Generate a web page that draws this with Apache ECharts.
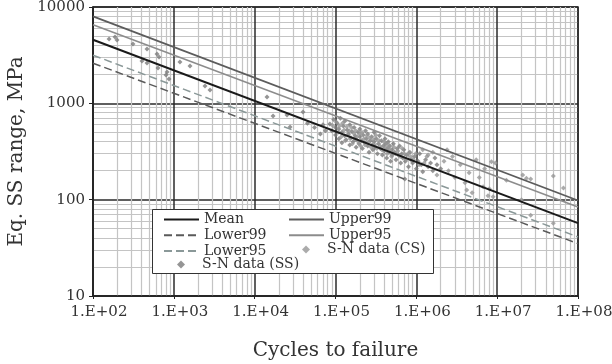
<!DOCTYPE html>
<html><head><meta charset="utf-8">
<script src="https://cdn.jsdelivr.net/npm/echarts@6/dist/echarts.min.js"></script>
<style>html,body{margin:0;padding:0;background:#fff}#c{width:612px;height:364px}</style>
</head><body><div id="c"></div>
<script>
// Fitted S-N lines: [cycles, stress range] at both ends
var meanLine    = [[100, 4570], [1e8, 57]];
var upper99Line = [[100, 8000], [1e8, 98]];
var upper95Line = [[100, 6540], [1e8, 84]];
var lower95Line = [[100, 3160], [1e8, 41]];
var lower99Line = [[100, 2610], [1e8, 35]];

// S-N data (SS)
var dataSS = [
 [158,4650],[187,4890],[198,4540],[312,4130],[466,3660],[619,3250],[656,3030],[404,2750],[466,2620],
 [637,2330],[824,2110],[800,1970],[872,1790],[1190,2690],[1585,2440],[2430,1510],[2800,1375],
 [14200,1165],[16900,738],[25100,757],[27400,568],[39600,813],
 [4.5e4,620],[5.5e4,560],[6.5e4,480],[7e4,600],[7.5e4,520],
 [8.5e4,610],[9e4,520],[9.5e4,680],[1.0e5,560],[1.0e5,470],[1.05e5,620],[1.1e5,430],[1.1e5,540],
 [1.15e5,700],[1.2e5,500],[1.2e5,390],[1.25e5,580],[1.3e5,460],[1.3e5,650],[1.35e5,420],[1.4e5,530],
 [1.45e5,480],[1.5e5,370],[1.5e5,600],[1.55e5,440],[1.6e5,510],[1.65e5,400],[1.7e5,560],[1.75e5,460],
 [1.8e5,350],[1.8e5,420],[1.9e5,500],[1.95e5,380],[2.0e5,450],[2.0e5,540],[2.1e5,410],[2.15e5,340],
 [2.2e5,470],[2.3e5,390],[2.35e5,520],[2.4e5,430],[2.5e5,360],[2.5e5,480],[2.6e5,310],[2.7e5,410],
 [2.8e5,450],[2.85e5,370],[2.9e5,330],[3.0e5,400],[3.0e5,500],[3.1e5,350],[3.2e5,430],[3.3e5,300],
 [3.4e5,380],[3.5e5,460],[3.6e5,340],[3.7e5,410],[3.8e5,290],[3.9e5,360],[4.0e5,320],[4.1e5,430],
 [4.2e5,380],[4.3e5,270],[4.4e5,340],[4.5e5,400],[4.6e5,310],[4.7e5,360],[4.8e5,250],[5.0e5,330],
 [5.0e5,290],[5.2e5,380],[5.4e5,310],[5.6e5,260],[5.8e5,340],[6.0e5,290],[6.2e5,360],[6.4e5,240],
 [6.6e5,300],[6.8e5,270],[7.0e5,330],[7.2e5,164],[7.3e5,250],[7.6e5,290],[8.0e5,220],[8.3e5,310],
 [8.6e5,260],[9.0e5,240],[9.5e5,280],[1.0e6,210],[1.05e6,250],[1.1e6,300],[1.15e6,230],[1.2e6,195],
 [1.3e6,260],[1.4e6,220],[1.5e6,240],[1.6e6,200],[1.7e6,270],[1.8e6,230],[2.0e6,210]
];
// S-N data (CS)
var dataCS = [
 [9.2e4,590],[1.02e5,640],[1.08e5,500],[1.12e5,580],[1.18e5,450],[1.22e5,620],[1.28e5,530],[1.32e5,410],
 [1.38e5,570],[1.42e5,470],[1.48e5,520],[1.52e5,430],[1.58e5,560],[1.62e5,380],[1.68e5,490],[1.72e5,430],
 [1.78e5,520],[1.85e5,450],[1.92e5,400],[1.98e5,480],[2.05e5,360],[2.12e5,500],[2.25e5,430],[2.32e5,370],
 [2.45e5,460],[2.55e5,400],[2.65e5,440],[2.75e5,350],[2.95e5,420],[3.05e5,370],[3.15e5,470],[3.25e5,340],
 [3.45e5,410],[3.55e5,360],[3.75e5,330],[3.95e5,400],[4.15e5,350],[4.35e5,300],[4.55e5,370],[4.75e5,330],
 [4.95e5,280],[5.3e5,350],[5.5e5,300],[5.9e5,320],[6.3e5,280],[6.7e5,340],[7.1e5,300],[7.5e5,260],
 [7.9e5,300],[8.5e5,280],[9.2e5,260],[9.8e5,300],[1.08e6,230],[1.25e6,240],[1.35e6,280],
 [1.2e6,330],[1.4e6,290],[1.6e6,310],[1.8e6,180],[2.2e6,250],[2.4e6,330],[2.5e6,200],[2.8e6,280],
 [3.0e6,170],[3.5e6,230],[4.0e6,150],[4.2e6,126],[4.5e6,190],[4.9e6,118],[5.5e6,260],[6.0e6,170],
 [6.7e6,136],[7.0e6,210],[7.7e6,110],[8.0e6,130],[8.5e6,248],[8.9e6,107],[9.5e6,240],
 [1.3e7,159],[2.0e7,100],[2.07e7,180],[2.3e7,167],[2.6e7,164],[2.6e7,69],[4.95e7,176],[4.95e7,57],[6.6e7,132]
];

var xMin = 100, xMax = 1e8, yMin = 10, yMax = 10000;
var xTitle = 'Cycles to failure';
var yTitle = 'Eq. SS range, MPa';

var FONT = 'DejaVu Serif';
var TXT = '#333';
var chart = echarts.init(document.getElementById('c'), null, {renderer: 'canvas'});

function lineSeries(name, data, color, width, type) {
  return {name: name, type: 'line', data: data, symbol: 'none', z: 3,
    lineStyle: {color: color, width: width, type: type}, itemStyle: {color: color}};
}
function lineItem(n) { return {name: n, itemStyle: {opacity: 0, color: 'rgba(0,0,0,0)', borderWidth: 0}}; }
var legendText = {fontFamily: FONT, fontSize: 14, color: TXT, lineHeight: 15};
var legendTextPad = {fontFamily: FONT, fontSize: 14, color: TXT, lineHeight: 15,
  rich: {p: {fontFamily: FONT, fontSize: 14, color: TXT, lineHeight: 15, padding: [0, 0, 0, 12]}}};

chart.setOption({
  animation: false,
  grid: {left: 93, right: 34, top: 7, bottom: 68, containLabel: false, outerBoundsMode: 'none',
    show: true, borderColor: '#222', borderWidth: 1.5},
  xAxis: {
    type: 'log', logBase: 10, min: xMin, max: xMax, splitNumber: 6,
    name: xTitle, nameLocation: 'middle', nameGap: 45,
    nameTextStyle: {fontFamily: FONT, fontSize: 20, color: TXT},
    axisLine: {lineStyle: {color: '#222', width: 1.5}},
    axisTick: {show: true, length: 3, lineStyle: {color: '#222'}},
    axisLabel: {fontFamily: FONT, fontSize: 15, color: TXT, margin: 9, padding: [0, 0, 0, 12],
      formatter: function (v) { var e = Math.round(Math.log10(v)); return '1.E+' + (e < 10 ? '0' : '') + e; }},
    splitLine: {show: true, lineStyle: {color: '#2a2a2a', width: 1.5}},
    minorTick: {show: false, splitNumber: 9},
    minorSplitLine: {show: true, lineStyle: {color: '#c4c4c4', width: 1.2}}
  },
  yAxis: {
    type: 'log', logBase: 10, min: yMin, max: yMax, splitNumber: 3,
    name: yTitle, nameLocation: 'middle', nameGap: 61, nameRotate: 90,
    nameTextStyle: {fontFamily: FONT, fontSize: 20, color: TXT},
    axisLine: {lineStyle: {color: '#222', width: 1.5}},
    axisTick: {show: true, length: 4, lineStyle: {color: '#222'}},
    axisLabel: {fontFamily: FONT, fontSize: 15, color: TXT, margin: 8,
      formatter: function (v) { return String(Math.round(v)); }},
    splitLine: {show: true, lineStyle: {color: '#2a2a2a', width: 1.5}},
    minorTick: {show: false, splitNumber: 9},
    minorSplitLine: {show: true, lineStyle: {color: '#c4c4c4', width: 1.2}}
  },
  graphic: [{type: 'rect', z: 10, shape: {x: 152.5, y: 209.5, width: 281, height: 64},
    style: {fill: '#fff', stroke: '#333', lineWidth: 1}}],
  legend: [
    {data: [lineItem('Mean'), lineItem('Lower99'), lineItem('Lower95')], orient: 'vertical', left: 163, top: 212, z: 11,
      itemWidth: 35, itemHeight: 14, itemGap: 0.7, textStyle: legendText, padding: 0},
    {data: ['S-N data (SS)'], orient: 'vertical', left: 177, top: 257, z: 11, formatter: '{p|{name}}',
      itemWidth: 8, itemHeight: 8, textStyle: legendTextPad, padding: 0},
    {data: [lineItem('Upper99'), lineItem('Upper95')], orient: 'vertical', left: 288, top: 212, z: 11,
      itemWidth: 35, itemHeight: 14, itemGap: 0.7, textStyle: legendText, padding: 0},
    {data: ['S-N data (CS)'], orient: 'vertical', left: 302, top: 242, z: 11, formatter: '{p|{name}}',
      itemWidth: 8, itemHeight: 8, textStyle: legendTextPad, padding: 0}
  ],
  series: [
    {name: 'S-N data (SS)', type: 'scatter', data: dataSS, symbol: 'diamond', symbolSize: 5, z: 2,
      itemStyle: {color: '#7a7a7a'}},
    {name: 'S-N data (CS)', type: 'scatter', data: dataCS, symbol: 'diamond', symbolSize: 5, z: 2,
      itemStyle: {color: '#969696'}},
    lineSeries('Lower99', lower99Line, '#5a5a5a', 1.5, [8, 4]),
    lineSeries('Lower95', lower95Line, '#8a9898', 1.5, [8, 4]),
    lineSeries('Upper95', upper95Line, '#8c8c8c', 1.5, 'solid'),
    lineSeries('Upper99', upper99Line, '#5c5c5c', 1.8, 'solid'),
    lineSeries('Mean', meanLine, '#1a1a1a', 2, 'solid')
  ]
});
</script></body></html>
